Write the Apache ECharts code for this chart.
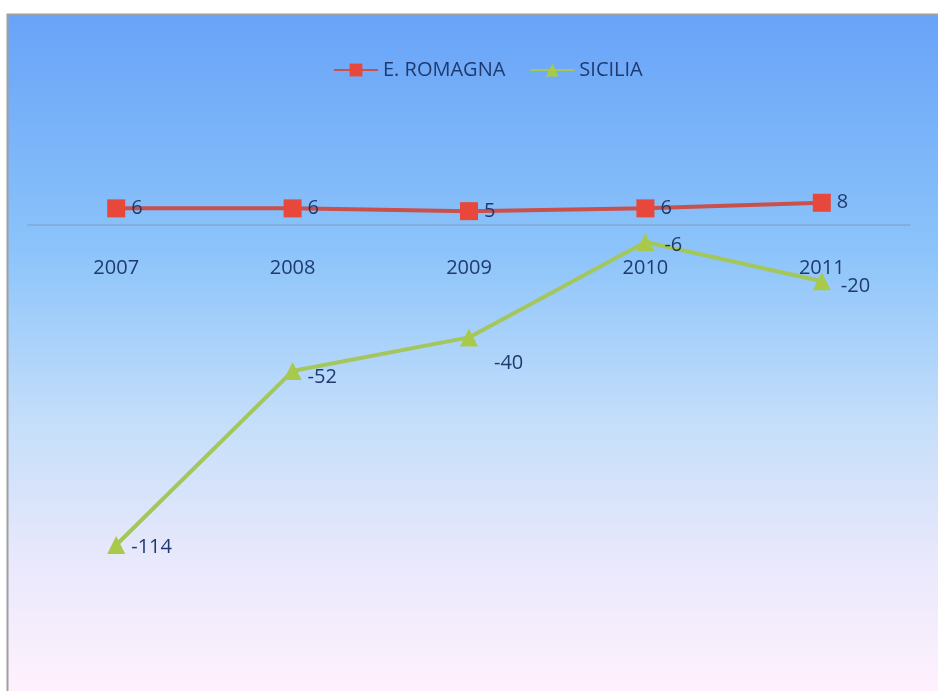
<!DOCTYPE html>
<html>
<head>
<meta charset="utf-8">
<script src="https://cdn.jsdelivr.net/npm/echarts@6/dist/echarts.min.js"></script>
<style>
html,body{margin:0;padding:0;background:#fff;}
#c{width:938px;height:691px;}
</style>
</head>
<body>
<div id="c"></div>
<script>
var categories = ['2007', '2008', '2009', '2010', '2011'];
var romagna = [6, 6, 5, 6, 8];
var sicilia = [-114, -52, -40, -6, -20];
var seriesNames = ['E. ROMAGNA', 'SICILIA'];

var FONT = '"Open Sans", "Noto Sans", sans-serif';
var TEXT = '#1f3a6e';

var chart = echarts.init(document.getElementById('c'));

var sicLabelOffsets = [[0, 2], [0, 6], [10, 26], [4, 3], [4, 5]];
var sicData = sicilia.map(function (v, i) {
  return { value: v, label: { offset: sicLabelOffsets[i] } };
});

var Y_MIN = -160, Y_MAX = 40;
var GRID_TOP = 113, GRID_H = 561;
var zeroPix = GRID_TOP + GRID_H * (Y_MAX / (Y_MAX - Y_MIN));

chart.setOption({
  animation: false,
  graphic: [
    {
      type: 'rect',
      z: -10,
      shape: { x: 8, y: 15, width: 930, height: 676 },
      style: {
        fill: new echarts.graphic.LinearGradient(0, 0, 0, 1, [
          { offset: 0, color: 'rgb(104,163,248)' },
          { offset: 0.35, color: 'rgb(140,196,250)' },
          { offset: 0.6, color: 'rgb(196,222,250)' },
          { offset: 0.8, color: 'rgb(232,232,252)' },
          { offset: 1, color: 'rgb(255,241,252)' }
        ]),
        stroke: null
      }
    },
    {
      type: 'polyline',
      z: -9,
      shape: { points: [[7.5, 691], [7.5, 14.5], [938, 14.5]] },
      style: { stroke: '#a0a0a0', lineWidth: 2, fill: null }
    }
  ],
  legend: {
    data: seriesNames,
    top: 55,
    left: 328,
    itemWidth: 44,
    itemHeight: 16,
    itemGap: 24,
    textStyle: { color: TEXT, fontFamily: FONT, fontSize: 20 }
  },
  grid: [
    { left: 28, right: 28, top: GRID_TOP, height: GRID_H, outerBoundsMode: 'none', containLabel: false },
    { left: 28, right: 28, top: GRID_TOP, height: zeroPix - GRID_TOP, outerBoundsMode: 'none', containLabel: false }
  ],
  xAxis: [
    {
      type: 'category',
      gridIndex: 0,
      data: categories,
      boundaryGap: true,
      axisLine: { show: false },
      axisTick: { show: false },
      axisLabel: { show: false },
      splitLine: { show: false }
    },
    {
      type: 'category',
      gridIndex: 1,
      data: categories,
      boundaryGap: true,
      axisLine: { show: true, lineStyle: { color: '#86a6cf', width: 1.5 } },
      axisTick: { show: false },
      axisLabel: { color: TEXT, fontFamily: FONT, fontSize: 20, margin: 33 },
      splitLine: { show: false }
    }
  ],
  yAxis: [
    { type: 'value', gridIndex: 0, min: Y_MIN, max: Y_MAX, interval: 20, show: false, splitLine: { show: false } },
    { type: 'value', gridIndex: 1, min: 0, max: Y_MAX, interval: 20, show: false, splitLine: { show: false } }
  ],
  series: [
    {
      name: seriesNames[0],
      type: 'line',
      xAxisIndex: 0, yAxisIndex: 0,
      data: romagna,
      symbol: 'rect',
      symbolSize: 18,
      itemStyle: { color: '#e8473b' },
      lineStyle: { color: '#c9504b', width: 4 },
      label: {
        show: true, position: 'right', distance: 6,
        color: TEXT, fontFamily: FONT, fontSize: 20
      },
      z: 3
    },
    {
      name: seriesNames[1],
      type: 'line',
      xAxisIndex: 0, yAxisIndex: 0,
      data: sicData,
      symbol: 'triangle',
      symbolSize: 18,
      itemStyle: { color: '#a9c94a' },
      lineStyle: { color: '#a3c75a', width: 4 },
      label: {
        show: true, position: 'right', distance: 6,
        color: TEXT, fontFamily: FONT, fontSize: 20
      },
      z: 2
    }
  ]
});
</script>
</body>
</html>
